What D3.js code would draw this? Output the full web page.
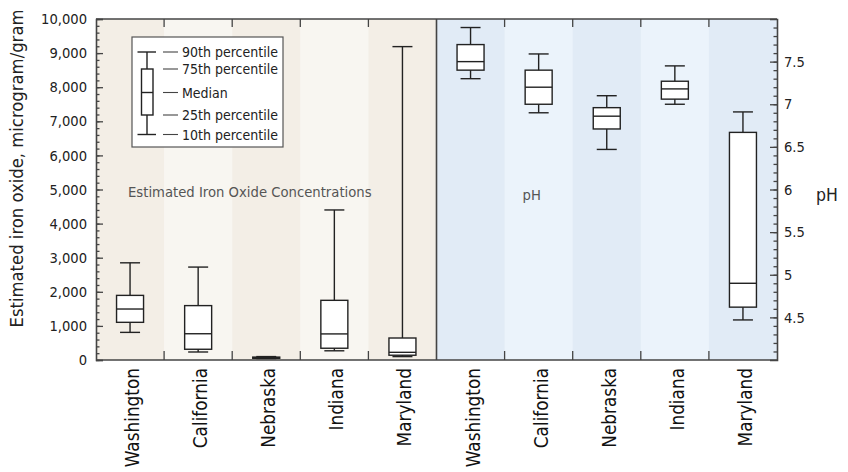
<html lang="en">
<head>
  <meta charset="UTF-8">
  <title>Iron oxide and pH</title>
  <style>
    body { margin: 0; background: #fff; }
    text { font-family: "Liberation Sans Narrow", "DejaVu Sans Condensed", "Roboto Condensed", sans-serif; font-stretch: condensed; }
  </style>
</head>
<body>
  <div id="chart"></div>
  <script src="https://d3js.org/d3.v7.min.js"></script>
  <script>
    // states shown in each panel
    const states = ["Washington", "California", "Nebraska", "Indiana", "Maryland"];

    // iron oxide, microgram/gram : [p10, p25, median, p75, p90]
    const ironP10 = [810, 235, 40, 270, 100];
    const ironP25 = [1105, 315, 50, 345, 140];
    const ironMed = [1495, 770, 65, 765, 225];
    const ironP75 = [1895, 1595, 85, 1750, 645];
    const ironP90 = [2850, 2725, 100, 4400, 9190];

    // pH : [p10, p25, median, p75, p90]
    const phP10 = [7.30, 6.90, 6.47, 7.00, 4.47];
    const phP25 = [7.40, 7.00, 6.71, 7.06, 4.62];
    const phMed = [7.50, 7.20, 6.86, 7.18, 4.90];
    const phP75 = [7.70, 7.40, 6.96, 7.27, 6.67];
    const phP90 = [7.90, 7.59, 7.10, 7.45, 6.91];

    const ironTicks = d3.range(0, 10001, 1000);
    const phTicks = [4.5, 5, 5.5, 6, 6.5, 7, 7.5];
    const legendLabels = ["90th percentile", "75th percentile", "Median", "25th percentile", "10th percentile"];

    const w = 848, h = 472;
    const pLeft = 96, pRight = 777, pTop = 19, pBottom = 360;
    const axisColor = "#444";

    const svg = d3.select("#chart").append("svg")
      .attr("width", w)
      .attr("height", h);

    // one column per state, first the iron oxide panel then the pH panel
    const cols = states.map(s => "iron-" + s).concat(states.map(s => "ph-" + s));
    const x = d3.scaleBand().domain(cols).range([pLeft, pRight]).padding(0);
    const yIron = d3.scaleLinear().domain([0, 10000]).range([pBottom, pTop]);
    const yPh = d3.scaleLinear().domain([4, 8]).range([pBottom, pTop]);

    // striped column backgrounds
    const bgColors = ["#f3eee6", "#f8f6f1", "#f3eee6", "#f8f6f1", "#f3eee6",
                      "#e1ebf6", "#ebf3fb", "#e1ebf6", "#ebf3fb", "#e1ebf6"];
    svg.selectAll("rect.bg")
      .data(cols)
      .enter()
      .append("rect")
      .attr("class", "bg")
      .attr("x", d => x(d))
      .attr("y", pTop)
      .attr("width", x.bandwidth() + 0.5)
      .attr("height", pBottom - pTop)
      .attr("fill", (d, i) => bgColors[i]);

    // panel texts
    svg.append("text")
      .attr("x", x("iron-Washington") + 32)
      .attr("y", 197)
      .attr("font-size", 14.7)
      .attr("fill", "#555")
      .text("Estimated Iron Oxide Concentrations");
    svg.append("text")
      .attr("x", x("ph-California") + 18)
      .attr("y", 200)
      .attr("font-size", 14.7)
      .attr("fill", "#555")
      .text("pH");

    // build box records
    const ironBoxes = states.map((s, i) => ({ key: "iron-" + s, y: yIron,
      p10: ironP10[i], p25: ironP25[i], med: ironMed[i], p75: ironP75[i], p90: ironP90[i] }));
    const phBoxes = states.map((s, i) => ({ key: "ph-" + s, y: yPh,
      p10: phP10[i], p25: phP25[i], med: phMed[i], p75: phP75[i], p90: phP90[i] }));
    const boxes = ironBoxes.concat(phBoxes);

    const boxW = 27, capW = 20;
    const g = svg.selectAll("g.box")
      .data(boxes)
      .enter()
      .append("g")
      .attr("class", "box")
      .attr("stroke", "#222")
      .attr("stroke-width", 1.4)
      .attr("transform", d => "translate(" + (x(d.key) + x.bandwidth() / 2) + ",0)");

    // whiskers
    g.append("line").attr("x1", 0).attr("x2", 0)
      .attr("y1", d => d.y(d.p90)).attr("y2", d => d.y(d.p10));
    g.append("line").attr("x1", -capW / 2).attr("x2", capW / 2)
      .attr("y1", d => d.y(d.p90)).attr("y2", d => d.y(d.p90));
    g.append("line").attr("x1", -capW / 2).attr("x2", capW / 2)
      .attr("y1", d => d.y(d.p10)).attr("y2", d => d.y(d.p10));
    // box
    g.append("rect")
      .attr("x", -boxW / 2)
      .attr("width", boxW)
      .attr("y", d => d.y(d.p75))
      .attr("height", d => d.y(d.p25) - d.y(d.p75))
      .attr("fill", "#fff");
    g.append("line").attr("x1", -boxW / 2).attr("x2", boxW / 2)
      .attr("y1", d => d.y(d.med)).attr("y2", d => d.y(d.med));

    // left axis (ticks inside)
    const leftAxis = svg.append("g")
      .attr("transform", "translate(" + pLeft + ",0)")
      .call(d3.axisLeft(yIron).tickValues(ironTicks).tickSize(-7).tickPadding(9).tickFormat(d3.format(",")));
    svg.append("g")
      .attr("transform", "translate(" + pLeft + ",0)")
      .call(d3.axisLeft(yIron).tickValues(d3.range(0, 10001, 200)).tickSize(-3.5).tickFormat(""))
      .select(".domain").remove();

    // right axis (ticks inside)
    const rightAxis = svg.append("g")
      .attr("transform", "translate(" + pRight + ",0)")
      .call(d3.axisRight(yPh).tickValues(phTicks).tickSize(-7).tickPadding(7).tickFormat(d => String(d)));
    svg.append("g")
      .attr("transform", "translate(" + pRight + ",0)")
      .call(d3.axisRight(yPh).tickValues(d3.range(41, 80).map(v => v / 10)).tickSize(-3.5).tickFormat(""))
      .select(".domain").remove();

    [leftAxis, rightAxis].forEach(a => {
      a.selectAll("text").attr("font-size", 14.6).attr("fill", "#222");
    });
    svg.selectAll(".domain, .tick line")
      .attr("stroke", axisColor)
      .attr("stroke-width", 1.3);
    svg.selectAll(".domain").attr("stroke-width", 1.6);

    // top and bottom frame with ticks at column boundaries
    svg.append("line").attr("x1", pLeft).attr("x2", pRight).attr("y1", pTop).attr("y2", pTop)
      .attr("stroke", axisColor).attr("stroke-width", 1.6);
    svg.append("line").attr("x1", pLeft).attr("x2", pRight).attr("y1", pBottom).attr("y2", pBottom)
      .attr("stroke", axisColor).attr("stroke-width", 1.6);
    const bounds = cols.slice(1).filter(c => c !== "ph-Washington");
    svg.selectAll("line.ctick-top")
      .data(bounds).enter().append("line")
      .attr("x1", d => x(d)).attr("x2", d => x(d))
      .attr("y1", pTop).attr("y2", pTop + 8)
      .attr("stroke", axisColor).attr("stroke-width", 1.3);
    svg.selectAll("line.ctick-bot")
      .data(bounds).enter().append("line")
      .attr("x1", d => x(d)).attr("x2", d => x(d))
      .attr("y1", pBottom).attr("y2", pBottom - 9)
      .attr("stroke", axisColor).attr("stroke-width", 1.3);
    // divider between the two panels
    svg.append("line")
      .attr("x1", x("ph-Washington")).attr("x2", x("ph-Washington"))
      .attr("y1", pTop).attr("y2", pBottom)
      .attr("stroke", axisColor).attr("stroke-width", 1.6);

    // category labels
    svg.selectAll("text.cat")
      .data(cols)
      .enter()
      .append("text")
      .attr("class", "cat")
      .attr("font-size", 18.8)
      .attr("fill", "#111")
      .attr("text-anchor", "end")
      .attr("transform", d => "translate(" + (x(d) + x.bandwidth() / 2 + 9) + "," + (pBottom + 8) + ") rotate(-90)")
      .text(d => d.split("-")[1]);

    // axis titles
    svg.append("text")
      .attr("text-anchor", "middle")
      .attr("font-size", 18.3)
      .attr("fill", "#222")
      .attr("transform", "translate(23,168.5) rotate(-90)")
      .text("Estimated iron oxide, microgram/gram");
    svg.append("text")
      .attr("x", 816)
      .attr("y", 201)
      .attr("font-size", 17.5)
      .attr("fill", "#222")
      .text("pH");

    // legend
    const lg = svg.append("g").attr("transform", "translate(132,37)");
    lg.append("rect")
      .attr("width", 151).attr("height", 110)
      .attr("fill", "#fff").attr("stroke", "#555").attr("stroke-width", 1.2);
    const lgY = [15, 32, 55.5, 78, 97.5];
    const lgBox = lg.append("g").attr("stroke", "#222").attr("stroke-width", 1.4);
    lgBox.append("line").attr("x1", 15).attr("x2", 15).attr("y1", lgY[0]).attr("y2", lgY[4]);
    lgBox.append("line").attr("x1", 5.5).attr("x2", 24).attr("y1", lgY[0]).attr("y2", lgY[0]);
    lgBox.append("line").attr("x1", 5.5).attr("x2", 24).attr("y1", lgY[4]).attr("y2", lgY[4]);
    lgBox.append("rect").attr("x", 9.5).attr("width", 11.5).attr("y", lgY[1]).attr("height", lgY[3] - lgY[1]).attr("fill", "#fff");
    lgBox.append("line").attr("x1", 9.5).attr("x2", 21).attr("y1", lgY[2]).attr("y2", lgY[2]);
    lg.selectAll("line.dash")
      .data(legendLabels).enter().append("line")
      .attr("x1", 31).attr("x2", 46)
      .attr("y1", (d, i) => lgY[i]).attr("y2", (d, i) => lgY[i])
      .attr("stroke", "#444").attr("stroke-width", 1.1);
    lg.selectAll("text.lab")
      .data(legendLabels).enter().append("text")
      .attr("x", 50)
      .attr("y", (d, i) => lgY[i])
      .attr("dy", "0.36em")
      .attr("font-size", 14)
      .attr("fill", "#222")
      .text(d => d);
  </script>
</body>
</html>
